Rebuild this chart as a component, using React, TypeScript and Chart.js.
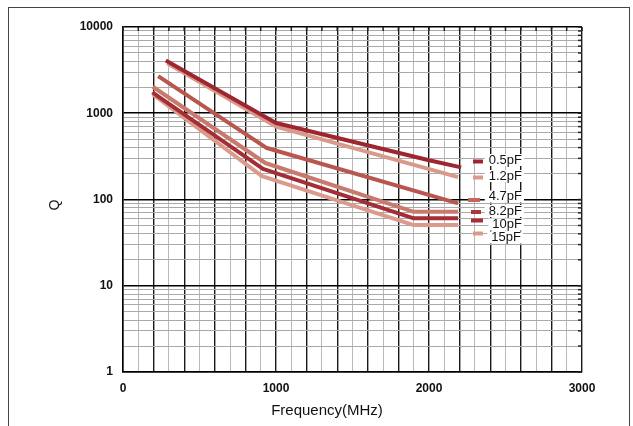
import React, { useEffect, useRef } from "react";
import { Chart, registerables } from "chart.js";

Chart.register(...registerables);

const seriesNames = ["0.5pF", "1.2pF", "4.7pF", "8.2pF", "10pF", "15pF"];
const seriesColors = ["#9e2630", "#d9998b", "#b9564e", "#c87a6c", "#a52d36", "#dc9a8c"];
const legendMarkerColors = ["#9e2630", "#d9998b", "#c0685c", "#a83a3e", "#a52d36", "#dc9a8c"];

const freq05 = [280, 1000, 2000, 2210];
const q05 = [4100, 770, 285, 236];
const freq12 = [290, 1000, 2190];
const q12 = [3800, 700, 182];
const freq47 = [230, 940, 2190];
const q47 = [2700, 395, 90];
const freq82 = [195, 930, 1900, 2190];
const q82 = [2030, 265, 72, 72];
const freq10 = [192, 915, 1900, 2190];
const q10 = [1750, 226, 60.5, 60.5];
const freq15 = [196, 908, 1900, 2190];
const q15 = [1650, 187, 50.5, 50.5];

const seriesFreqs = [freq05, freq12, freq47, freq82, freq10, freq15];
const seriesQs = [q05, q12, q47, q82, q10, q15];

const xTickLabels = [0, 1000, 2000, 3000];
const yDecades = [1, 10, 100, 1000, 10000];

const xTitle = "Frequency(MHz)";
const yTitle = "Q";

// legend layout (pixels): marker x0,x1,y ; text right edge, text y
const legendLayout = [
  { mx0: 473, mx1: 483, my: 161.5, tx: 522, ty: 160 },
  { mx0: 473, mx1: 483, my: 177.5, tx: 522, ty: 176 },
  { mx0: 468, mx1: 480, my: 200, tx: 522, ty: 196.5 },
  { mx0: 471, mx1: 481, my: 212, tx: 522, ty: 211 },
  { mx0: 471, mx1: 483, my: 220.5, tx: 522, ty: 224.5 },
  { mx0: 473, mx1: 483, my: 233.5, tx: 521, ty: 237.5 },
];

const FONT = '"Liberation Sans", Arial, Helvetica, sans-serif';

const decorPlugin = {
  id: "decor",
  beforeDraw(chart: any) {
    const ctx = chart.ctx;
    ctx.save();
    ctx.fillStyle = "#fff";
    ctx.fillRect(0, 0, chart.width, chart.height);
    ctx.strokeStyle = "#444";
    ctx.lineWidth = 1;
    ctx.strokeRect(8.5, 7.5, 621, 600);
    ctx.restore();
  },
  afterDraw(chart: any) {
    const ctx = chart.ctx;
    const ca = chart.chartArea;
    const xs = chart.scales.x;
    const ys = chart.scales.y;
    ctx.save();
    // inner ticks on right and top edges
    ctx.strokeStyle = "#222";
    ctx.lineWidth = 1.5;
    ys.ticks.forEach((t: any) => {
      const y = ys.getPixelForValue(t.value);
      ctx.beginPath();
      ctx.moveTo(ca.right, y);
      ctx.lineTo(ca.right - 4, y);
      ctx.stroke();
    });
    xs.ticks.forEach((t: any) => {
      const x = xs.getPixelForValue(t.value);
      ctx.beginPath();
      ctx.moveTo(x, ca.top);
      ctx.lineTo(x, ca.top + 4);
      ctx.stroke();
    });
    // titles
    ctx.fillStyle = "#111";
    ctx.font = "15px " + FONT;
    ctx.textAlign = "center";
    ctx.textBaseline = "middle";
    ctx.fillText(xTitle, 327, 411);
    ctx.save();
    ctx.translate(55, 205);
    ctx.rotate(-Math.PI / 2);
    ctx.font = "14px " + FONT;
    ctx.fillText(yTitle, 0, 0);
    ctx.restore();
    // legend
    ctx.font = "13px " + FONT;
    ctx.textAlign = "right";
    ctx.textBaseline = "middle";
    seriesNames.forEach((name, i) => {
      const L = legendLayout[i];
      const w = ctx.measureText(name).width;
      ctx.fillStyle = "#fff";
      ctx.fillRect(L.tx - w - 4, L.ty - 6, w + 6, 12);
    });
    seriesNames.forEach((name, i) => {
      const L = legendLayout[i];
      ctx.fillStyle = "#111";
      ctx.fillText(name, L.tx, L.ty);
      ctx.strokeStyle = legendMarkerColors[i];
      ctx.lineWidth = 4;
      ctx.beginPath();
      ctx.moveTo(L.mx0, L.my);
      ctx.lineTo(L.mx1, L.my);
      ctx.stroke();
    });
    ctx.restore();
  },
};

export default function App() {
  const ref = useRef<HTMLCanvasElement | null>(null);
  useEffect(() => {
    if (!ref.current) return;
    const datasets = seriesNames.map((name, i) => ({
      label: name,
      data: seriesFreqs[i].map((f, j) => ({ x: f, y: seriesQs[i][j] })),
      borderColor: seriesColors[i],
      backgroundColor: seriesColors[i],
      borderWidth: 4,
      pointRadius: 0,
      tension: 0,
      borderCapStyle: "butt" as const,
      borderJoinStyle: "round" as const,
    }));
    const yTicks: number[] = [];
    yDecades.forEach((d, k) => {
      if (k === yDecades.length - 1) {
        yTicks.push(d);
      } else {
        for (let m = 1; m <= 9; m++) yTicks.push(d * m);
      }
    });
    const isDecade = (v: number) => yDecades.indexOf(v) >= 0;
    const chart = new Chart(ref.current, {
      type: "line",
      data: { datasets },
      plugins: [decorPlugin],
      options: {
        animation: false,
        responsive: false,
        layout: { padding: { left: 0, right: 51, top: 27, bottom: 24 } },
        plugins: { legend: { display: false }, tooltip: { enabled: false } },
        scales: {
          x: {
            type: "linear",
            min: 0,
            max: 3000,
            afterFit: (s: any) => {
              s.height = 30;
            },
            ticks: {
              stepSize: 100,
              autoSkip: false,
              maxRotation: 0,
              padding: 9,
              color: "#111",
              font: { family: FONT, size: 12, weight: "bold" },
              callback: (v: any) => (xTickLabels.indexOf(Number(v)) >= 0 ? String(v) : ""),
            },
            grid: {
              drawTicks: false,
              color: (c: any) => (c.tick && c.tick.value % 200 === 0 ? "#1a1a1a" : "#b8b8b8"),
              lineWidth: (c: any) => (c.tick && c.tick.value % 200 === 0 ? 1.4 : 1),
            },
            border: { display: true, color: "#000", width: 1.5 },
          },
          y: {
            type: "logarithmic",
            min: 1,
            max: 10000,
            afterFit: (s: any) => {
              s.width = 123;
            },
            afterBuildTicks: (s: any) => {
              s.ticks = yTicks.map((v) => ({ value: v, major: isDecade(v) }));
            },
            ticks: {
              autoSkip: false,
              padding: 10,
              color: "#111",
              font: { family: FONT, size: 12, weight: "bold" },
              callback: (v: any) => (isDecade(Number(v)) ? String(v) : ""),
            },
            grid: {
              drawTicks: false,
              color: (c: any) => (c.tick && isDecade(c.tick.value) ? "#000" : "#aaaaaa"),
              lineWidth: (c: any) => (c.tick && isDecade(c.tick.value) ? 1.6 : 1),
            },
            border: { display: true, color: "#000", width: 1.5 },
          },
        },
      },
    });
    return () => chart.destroy();
  }, []);
  return (
    <div style={{ position: "absolute", left: 0, top: 0, width: 633, height: 426, background: "#fff" }}>
      <canvas ref={ref} width={633} height={426} style={{ display: "block" }} />
    </div>
  );
}
